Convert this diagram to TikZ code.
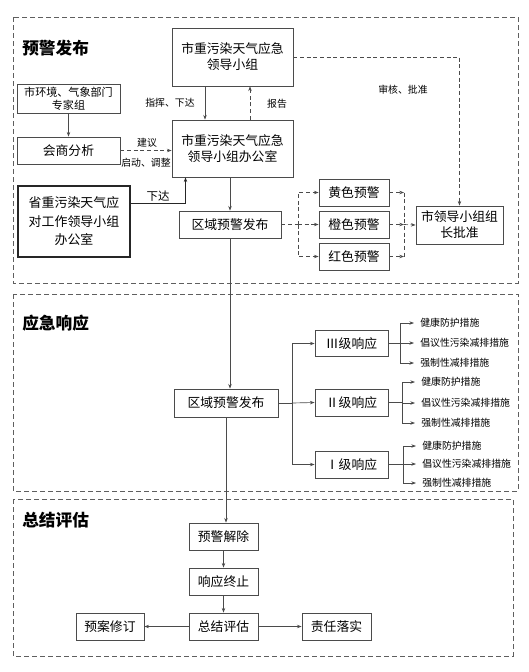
\documentclass[tikz,border=0pt]{standalone}
\usepackage{fontspec}
\setmainfont{Noto Sans CJK SC}
\usepackage{xcolor}
\usepackage{tikz}
\usetikzlibrary{arrows.meta,calc}
\definecolor{linegray}{RGB}{75,75,75}
\definecolor{zonegray}{RGB}{95,95,95}

\begin{document}
\begin{tikzpicture}[x=0.75pt,y=-0.75pt,
		box/.style={draw=linegray, line width=0.6pt, fill=white, inner sep=0pt, align=center, font=\fontsize{9.6}{12}\selectfont},
		plainline/.style={draw=linegray, line width=0.5pt},
		link/.style={plainline, -{Stealth[length=3.5pt,width=2.6pt]}},
		dashline/.style={plainline, dash pattern=on 3pt off 2pt},
		dashlink/.style={link, dash pattern=on 3pt off 2pt},
		lbl/.style={font=\fontsize{7.4}{9}\selectfont, inner sep=0pt},
		item/.style={font=\fontsize{7.4}{9}\selectfont, anchor=west, inner xsep=4.5pt, inner ysep=1pt},
		zone/.style={draw=zonegray, line width=0.6pt, dash pattern=on 3.5pt off 2.5pt},
		zonetitle/.style={font=\fontsize{12.5}{14}\selectfont\bfseries, anchor=west, inner sep=0pt}]
			\useasboundingbox (0,0) rectangle (529,672);
			
			% three stages
			\draw[zone] (13,17) rectangle (518,283);
			\node[zonetitle] (t1) at (22,48) {预警发布};
			\draw[zone] (13,294) rectangle (518,491);
			\node[zonetitle] (t2) at (22,323) {应急响应};
			\draw[zone] (13,499) rectangle (513,656);
			\node[zonetitle] (t3) at (22,520) {总结评估};
			
			% stage 1
			\node[box, minimum width=90.75pt, minimum height=43.5pt] (lead) at (232.5,57) {市重污染天气应急\\领导小组};
			\node[box, minimum width=90.75pt, minimum height=42.75pt] (office) at (232.5,148.5) {市重污染天气应急\\领导小组办公室};
			\node[box, minimum width=77.25pt, minimum height=21.75pt, font=\fontsize{8.3}{10}\selectfont] (expert) at (68.5,98.5) {市环境、气象部门\\专家组};
			\node[box, minimum width=77.25pt, minimum height=20.25pt] (consult) at (68.5,150.5) {会商分析};
			\node[box, draw=black!85, line width=1pt, minimum width=84pt, minimum height=53.25pt, font=\fontsize{9.7}{13.9}\selectfont] (prov) at (74,221.5) {省重污染天气应\\对工作领导小组\\办公室};
			\node[box, minimum width=76.5pt, minimum height=20.25pt] (alert1) at (230,224.5) {区域预警发布};
			\node[box, minimum width=52.5pt, minimum height=20.25pt] (yellow) at (354,192.5) {黄色预警};
			\node[box, minimum width=52.5pt, minimum height=20.25pt] (orange) at (354,224.5) {橙色预警};
			\node[box, minimum width=52.5pt, minimum height=20.25pt] (red) at (354,256.5) {红色预警};
			\node[box, minimum width=65.25pt, minimum height=28.5pt] (approve) at (459.5,225) {市领导小组组\\长批准};
			
			\draw[dashlink] (lead.east) -| (approve.north);
			\node[lbl] (checklbl) at (403,90) {审核、批准};
			\draw[link] ($(lead.south)+(-27.5,0)$) -- ($(office.north)+(-27.5,0)$);
			\node[lbl] (cmdlbl) at (170,103) {指挥、下达};
			\draw[dashlink] ($(office.north)+(17.5,0)$) -- ($(lead.south)+(17.5,0)$);
			\node[lbl] (replbl) at (277,104) {报告};
			\draw[link] (expert.south) -- (consult.north);
			\draw[dashlink] (consult.east) -- (consult.east -| office.west);
			\node[lbl] (advlbl) at (147,143) {建议};
			\node[lbl] (startlbl) at (146,163) {启动、调整};
			\draw[draw=black!85, line width=1pt, -{Stealth[length=3.5pt,width=2.6pt]}] ($(prov.east)+(0,-18)$) -| ($(office.south)+(-47,0)$);
			\node[lbl, font=\fontsize{8.6}{10}\selectfont] (downlbl) at (158,196) {下达};
			\draw[link] (alert1.north |- office.south) -- (alert1.north);
			
			\coordinate (s1) at (298,224.5);
			\coordinate (j1) at (404,224.5);
			\draw[dashline] (alert1.east) -- (s1);
			\draw[dashlink] (s1) |- (yellow.west);
			\draw[dashlink] (s1) -- (orange.west);
			\draw[dashlink] (s1) |- (red.west);
			\draw[dashline] (j1 |- yellow.east) -- (j1 |- red.east);
			\draw[dashlink] (yellow.east) -- (yellow.east -| j1);
			\draw[dashlink] (orange.east) -- (j1);
			\draw[dashlink] (red.east) -- (red.east -| j1);
			\draw[dashlink] (j1) -- (approve.west);
			
			% stage 2
			\node[box, minimum width=78pt, minimum height=21pt] (alert2) at (226,403) {区域预警发布};
			\node[box, minimum width=54.75pt, minimum height=19.5pt] (lv3) at (351.5,343.5) {Ⅲ级响应};
			\node[box, minimum width=54.75pt, minimum height=20.25pt] (lv2) at (351.5,402.5) {Ⅱ级响应};
			\node[box, minimum width=54.75pt, minimum height=20.25pt] (lv1) at (351.5,464.5) {Ⅰ级响应};
			\draw[link] (alert1.south) -- (alert1.south |- alert2.north);
			
			\coordinate (s2) at (292,403);
			\draw[plainline] (alert2.east) -- (s2);
			\draw[link] (s2) |- (lv3.west);
			\draw[link] (s2) -- (lv2.west);
			\draw[link] (s2) |- (lv1.west);
			
			\node[item] (m3a) at (414,323) {健康防护措施};
			\node[item] (m3b) at (414,343) {倡议性污染减排措施};
			\node[item] (m3c) at (414,363) {强制性减排措施};
			\node[item] (m2a) at (415,382) {健康防护措施};
			\node[item] (m2b) at (415,403) {倡议性污染减排措施};
			\node[item] (m2c) at (415,423) {强制性减排措施};
			\node[item] (m1a) at (416,446) {健康防护措施};
			\node[item] (m1b) at (416,464) {倡议性污染减排措施};
			\node[item] (m1c) at (416,483) {强制性减排措施};
			
			\coordinate (b3) at (400,343.5);
			\coordinate (b2) at (402,402.5);
			\coordinate (b1) at (403,464.5);
			\draw[plainline] (lv3.east) -- (b3);
			\draw[link] (b3) |- (m3a.west);
			\draw[link] (b3) |- (m3b.west);
			\draw[link] (b3) |- (m3c.west);
			\draw[plainline] (lv2.east) -- (b2);
			\draw[link] (b2) |- (m2a.west);
			\draw[link] (b2) |- (m2b.west);
			\draw[link] (b2) |- (m2c.west);
			\draw[plainline] (lv1.east) -- (b1);
			\draw[link] (b1) |- (m1a.west);
			\draw[link] (b1) |- (m1b.west);
			\draw[link] (b1) |- (m1c.west);
			
			% stage 3
			\node[box, minimum width=51.75pt, minimum height=20.25pt] (release) at (223.5,536.5) {预警解除};
			\node[box, minimum width=51.75pt, minimum height=20.25pt] (stop) at (223.5,581.5) {响应终止};
			\node[box, minimum width=51.75pt, minimum height=20.25pt] (summ) at (223.5,626.5) {总结评估};
			\node[box, minimum width=51pt, minimum height=20.25pt] (revise) at (110,626.5) {预案修订};
			\node[box, minimum width=51.75pt, minimum height=20.25pt] (duty) at (336.5,626.5) {责任落实};
			
			\draw[link] (alert2.south) -- (alert2.south |- release.north);
			\draw[link] (release.south) -- (stop.north);
			\draw[link] (stop.south) -- (summ.north);
			\draw[link] (summ.west) -- (revise.east);
			\draw[link] (summ.east) -- (duty.west);
			
		\end{tikzpicture}
\end{document}
